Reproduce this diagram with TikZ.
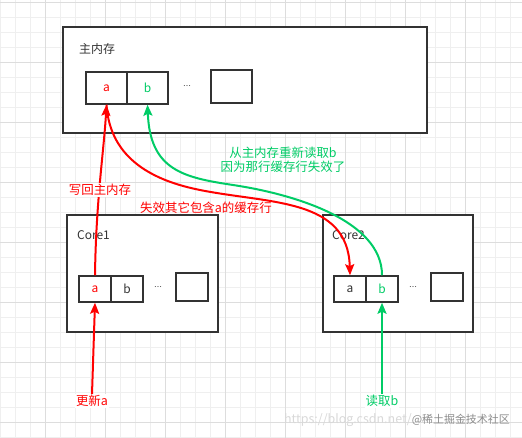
\documentclass[tikz,border=0pt]{standalone}
\usepackage{fontspec}
\setmainfont{Noto Sans CJK SC}
\newfontfamily\dotsfont{DejaVu Sans}
\usetikzlibrary{arrows.meta}
\definecolor{myred}{HTML}{FF0000}
\definecolor{mygreen}{HTML}{00CC66}
\definecolor{dark}{HTML}{333333}
\definecolor{gridfine}{HTML}{EFEFEF}
\definecolor{gridmajor}{HTML}{DDDDDD}
\tikzset{
  box/.style={draw=dark, line width=1.5bp, inner sep=0pt, fill=white},
  cell/.style={draw=dark, line width=1.5bp, inner sep=0pt, minimum width=41bp, minimum height=32bp, font=\fontsize{12}{14}\selectfont, text=dark},
  ccell/.style={cell, minimum width=32bp, minimum height=26bp},
  plain/.style={inner sep=0pt, font=\fontsize{12}{14}\selectfont, text=dark},
  dotsnode/.style={inner sep=0pt, font=\dotsfont\fontsize{8}{8}\selectfont, text=dark},
  lbl/.style={inner sep=1bp, fill=white, font=\fontsize{12.5}{14}\selectfont},
  redline/.style={draw=myred, line width=2bp, -{Stealth[length=11bp,width=9bp,inset=2bp]}},
  greenline/.style={draw=mygreen, line width=2bp, -{Stealth[length=11bp,width=9bp,inset=2bp]}},
}
\begin{document}
\begin{tikzpicture}[x=1bp,y=-1bp]
\useasboundingbox (0,0) rectangle (522,438);
\fill[white] (0,0) rectangle (522,438);
% grid
\foreach \i in {0,...,35} {\draw[gridfine, line width=0.8bp] (\i*15,0) -- (\i*15,438);}
\foreach \i in {0,...,29} {\draw[gridfine, line width=0.8bp] (0,2+\i*15) -- (522,2+\i*15);}
\foreach \i in {0,...,8} {\draw[gridmajor, line width=0.8bp] (45+\i*60,0) -- (45+\i*60,438);}
\foreach \i in {0,...,7} {\draw[gridmajor, line width=0.8bp] (0,2+\i*60) -- (522,2+\i*60);}

% main memory
\node[box, minimum width=364bp, minimum height=106bp] (main) at (245,80) {};
\node[plain, anchor=west] (maint) at (79,49) {主内存};
\node[cell, text=myred] (ma) at (106.5,88) {a};
\node[cell, text=mygreen] (mb) at (147.5,88) {b};
\node[dotsnode] (mdots) at (187,87) {⋯};
\node[cell, minimum height=33bp] (mbox) at (231.5,86.5) {};

% core1
\node[box, minimum width=151bp, minimum height=117bp] (core1) at (142.5,273.5) {};
\node[plain, anchor=west] (c1t) at (77,235) {Core1};
\node[ccell, text=myred] (c1a) at (95,289) {a};
\node[ccell] (c1b) at (127,289) {b};
\node[dotsnode] (c1dots) at (158,288) {⋯};
\node[ccell, minimum height=28bp] (c1box) at (192,287) {};

% core2
\node[box, minimum width=150bp, minimum height=117bp] (core2) at (398,273.5) {};
\node[plain, anchor=west] (c2t) at (332,235) {Core2};
\node[ccell] (c2a) at (350,289) {a};
\node[ccell, text=mygreen] (c2b) at (382,289) {b};
\node[dotsnode] (c2dots) at (413,288) {⋯};
\node[ccell, minimum height=28bp] (c2box) at (447,287) {};

% bottom labels
\node[lbl, text=myred] (upd) at (92,401) {更新a};
\node[lbl, text=mygreen] (rd) at (382,401) {读取b};

% connectors
\draw[redline] (upd.north) -- (c1a.south);
\draw[greenline] (rd.north) -- (c2b.south);
\draw[redline] (c1a.north) .. controls (96,200) and (104,150) .. (ma.south);
\draw[redline] (ma.south) .. controls (110,160) and (155,181) .. (200,190)
                          .. controls (270,204) and (348,198) .. (c2a.north);
\draw[greenline] (c2b.north) .. controls (382,220) and (293,194) .. (233,185)
                             .. controls (183,177.5) and (150,170) .. (mb.south);

% connector labels
\node[lbl, text=myred] (wb) at (100,190) {写回主内存};
\node[lbl, text=myred, fill=none] (inv) at (206,208) {失效其它包含a的缓存行};
\node[lbl, text=mygreen, fill=none, align=center, font=\fontsize{12.5}{14}\selectfont] (reread) at (283,160) {从主内存重新读取b\\因为那行缓存行失效了};

% watermark
\node[inner sep=0pt, anchor=east, font=\fontsize{11}{12}\selectfont, text=black!45] (wm) at (510,420) {{\fontsize{12.5}{12}\selectfont\color{black!15}https://blog.csdn.net/}@稀土掘金技术社区};
\end{tikzpicture}
\end{document}
